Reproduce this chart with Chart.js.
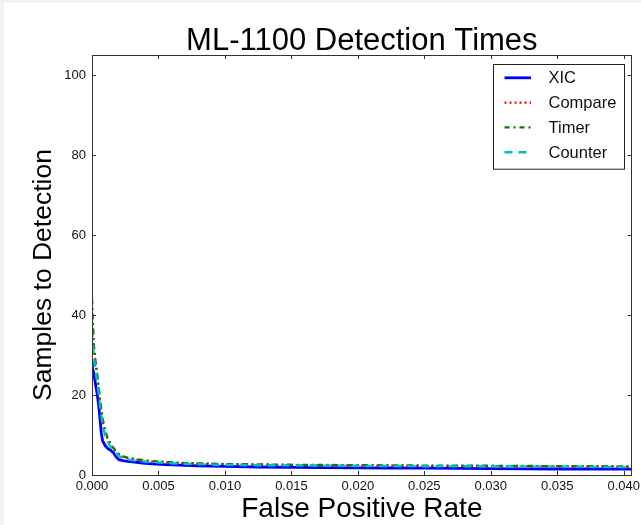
<!DOCTYPE html>
<html><head><meta charset="utf-8">
<script src="https://cdn.jsdelivr.net/npm/chart.js@4.4.1/dist/chart.umd.min.js"></script>
<style>
html,body{margin:0;padding:0;background:#f1f2f1;width:641px;height:525px;overflow:hidden}
#wrap{position:absolute;left:4px;top:3px;width:637px;height:522px;background:#fff}
canvas{display:block}
</style></head><body>
<div id="wrap"><canvas id="c" width="637" height="522"></canvas></div>
<script>
const chartTitle = 'ML-1100 Detection Times';
const xAxisTitle = 'False Positive Rate';
const yAxisTitle = 'Samples to Detection';
const seriesNames = ['XIC', 'Compare', 'Timer', 'Counter'];

const fpr = [0, 0.00003, 0.00008, 0.00013, 0.0002, 0.0003, 0.0004, 0.0005, 0.0006, 0.0007,
  0.0008, 0.001, 0.0012, 0.0014, 0.0016, 0.0018, 0.002, 0.0023, 0.0027, 0.0032,
  0.0038, 0.0045, 0.0055, 0.0065, 0.008, 0.01, 0.0125, 0.015, 0.0175, 0.02,
  0.0225, 0.025, 0.0275, 0.03, 0.0325, 0.035, 0.0375, 0.0406];

const xic = [28.5, 27, 26, 25.5, 24, 22, 20, 17.5, 14, 10.5,
  8.5, 7.3, 6.6, 6.2, 5.6, 4.6, 3.9, 3.6, 3.4, 3.2,
  3.0, 2.8, 2.6, 2.45, 2.3, 2.15, 2.0, 1.9, 1.85, 1.8,
  1.75, 1.7, 1.65, 1.6, 1.55, 1.5, 1.5, 1.45];

const compare = [40.5, 38, 35, 32, 30, 27, 24.5, 21.5, 18.5, 16,
  13.5, 10.5, 8.8, 7.6, 6.5, 5.8, 5.2, 4.6, 4.2, 3.9,
  3.6, 3.4, 3.2, 3.0, 2.85, 2.7, 2.6, 2.5, 2.45, 2.4,
  2.35, 2.3, 2.3, 2.25, 2.2, 2.2, 2.15, 2.1];

const timer = [44, 41, 37, 33, 30, 27.5, 25, 22, 19, 16.5,
  14, 11, 9, 7.8, 6.8, 6, 5.3, 4.7, 4.3, 4.0,
  3.7, 3.5, 3.25, 3.05, 2.9, 2.75, 2.65, 2.55, 2.5, 2.45,
  2.4, 2.35, 2.3, 2.3, 2.25, 2.2, 2.2, 2.15];

const counter = [36, 34, 32, 30, 28, 25.5, 23, 20.5, 17.5, 15,
  12.5, 9.8, 8.2, 7.0, 6.0, 5.4, 4.8, 4.3, 3.9, 3.6,
  3.4, 3.2, 3.0, 2.85, 2.7, 2.55, 2.45, 2.4, 2.35, 2.3,
  2.25, 2.2, 2.2, 2.15, 2.1, 2.1, 2.05, 2.0];

const xTicks = [0, 0.005, 0.010, 0.015, 0.020, 0.025, 0.030, 0.035, 0.040];
const yTicks = [0, 20, 40, 60, 80, 100];

const FONT = '"Liberation Sans", Arial, sans-serif';
Chart.defaults.font.family = FONT;
Chart.defaults.color = '#111';

function pts(ys) { return fpr.map((x, i) => ({x: x, y: ys[i]})); }

const styles = [
  {color: '#0000ff', width: 2.8, dash: []},
  {color: '#ff0000', width: 2.2, dash: [2, 3]},
  {color: '#007f00', width: 2.4, dash: [5, 4, 2, 4]},
  {color: '#00bfbf', width: 2.4, dash: [8, 6]}
];
const seriesData = [xic, compare, timer, counter];

const datasets = seriesData.map((ys, i) => ({
  label: seriesNames[i],
  data: pts(ys),
  borderColor: styles[i].color,
  backgroundColor: styles[i].color,
  borderWidth: styles[i].width,
  borderDash: styles[i].dash,
  pointRadius: 0,
  tension: 0,
  fill: false,
  order: 4 - i
}));

const decorPlugin = {
  id: 'decor',
  afterDatasetsDraw(chart) {
    const {ctx, chartArea: a, scales: {x, y}} = chart;
    ctx.save();
    ctx.strokeStyle = '#333';
    ctx.lineWidth = 1;
    ctx.setLineDash([]);
    ctx.beginPath();
    xTicks.forEach(t => {
      const px = Math.round(x.getPixelForValue(t)) + 0.5;
      ctx.moveTo(px, a.bottom); ctx.lineTo(px, a.bottom - 4);
      ctx.moveTo(px, a.top); ctx.lineTo(px, a.top + 4);
    });
    yTicks.forEach(t => {
      const py = Math.round(y.getPixelForValue(t)) + 0.5;
      ctx.moveTo(a.left, py); ctx.lineTo(a.left + 4, py);
      ctx.moveTo(a.right, py); ctx.lineTo(a.right - 4, py);
    });
    ctx.stroke();
    ctx.strokeRect(Math.round(a.left) + 0.5, Math.round(a.top) + 0.5,
      Math.round(a.right - a.left) - 1, Math.round(a.bottom - a.top));

    // legend
    const bw = 131, bh = 104.7;
    const bx = Math.round(a.right - 7.4 - bw) + 0.5, by = Math.round(a.top + 9) + 0.5;
    ctx.fillStyle = '#fff';
    ctx.fillRect(bx, by, bw, bh);
    ctx.strokeStyle = '#222';
    ctx.strokeRect(bx, by, bw, bh);
    ctx.font = '16.5px ' + FONT;
    ctx.textBaseline = 'middle';
    ctx.textAlign = 'left';
    seriesNames.forEach((name, i) => {
      const yy = by + 13.3 + i * 24.8;
      ctx.strokeStyle = styles[i].color;
      ctx.lineWidth = styles[i].width;
      ctx.setLineDash(styles[i].dash);
      ctx.beginPath();
      ctx.moveTo(bx + 11, yy); ctx.lineTo(bx + 37.5, yy);
      ctx.stroke();
      ctx.fillStyle = '#111';
      ctx.fillText(name, bx + 55, yy + 1);
    });
    ctx.setLineDash([]);

    // title
    ctx.fillStyle = '#000';
    ctx.font = '31px ' + FONT;
    ctx.textAlign = 'center';
    ctx.textBaseline = 'alphabetic';
    ctx.fillText(chartTitle, (a.left + a.right) / 2, 47);

    // y-axis title
    ctx.font = '26.5px ' + FONT;
    ctx.textBaseline = 'middle';
    ctx.translate(39.5, (a.top + a.bottom) / 2 + 10);
    ctx.rotate(-Math.PI / 2);
    ctx.fillText(yAxisTitle, 0, 0);
    ctx.restore();
  }
};

new Chart(document.getElementById('c'), {
  type: 'line',
  data: {datasets: datasets},
  plugins: [decorPlugin],
  options: {
    responsive: false,
    animation: false,
    devicePixelRatio: 1,
    layout: {padding: {top: 52, right: 9.3, left: 0, bottom: 0}},
    plugins: {legend: {display: false}, title: {display: false}, tooltip: {enabled: false}},
    scales: {
      x: {
        type: 'linear', min: 0, max: 0.0406,
        afterFit: s => { s.height = 50; s.paddingLeft = 0; s.paddingRight = 0; },
        grid: {display: false, drawTicks: false},
        border: {display: false},
        afterBuildTicks: s => { s.ticks = xTicks.map(v => ({value: v})); },
        ticks: {
          includeBounds: false, padding: 4, maxRotation: 0, autoSkip: false,
          font: {size: 13}, color: '#111',
          callback: v => Number(v).toFixed(3)
        },
        title: {display: true, text: xAxisTitle, font: {size: 28, lineHeight: 1}, padding: {top: 0, bottom: 1.7}, color: '#000'}
      },
      y: {
        type: 'linear', min: 0, max: 105,
        afterFit: s => { s.width = 88; s.paddingTop = 0; s.paddingBottom = 0; },
        grid: {display: false, drawTicks: false},
        border: {display: false},
        afterBuildTicks: s => { s.ticks = yTicks.map(v => ({value: v})); },
        ticks: {
          includeBounds: false, padding: 6, autoSkip: false,
          font: {size: 13}, color: '#111',
          callback: v => String(v)
        },
        title: {display: false, text: yAxisTitle}
      }
    }
  }
});
</script>
</body></html>
